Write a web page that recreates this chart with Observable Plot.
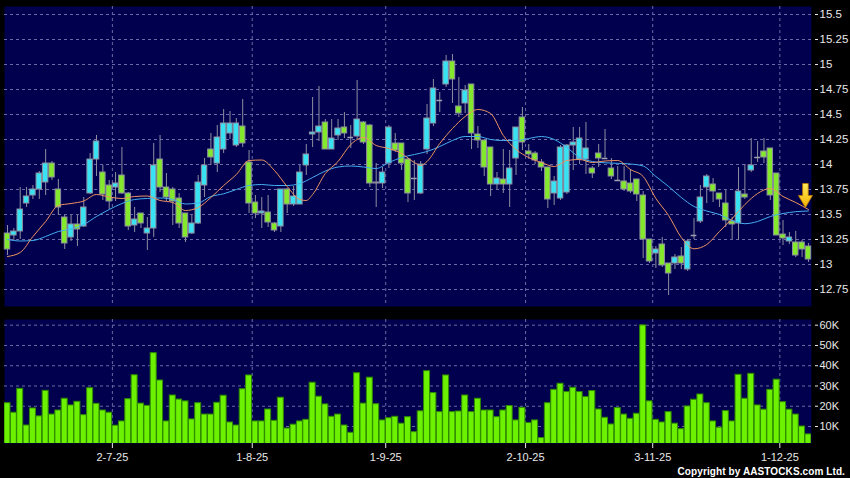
<!DOCTYPE html>
<html><head><meta charset="utf-8">
<script src="https://cdn.jsdelivr.net/npm/d3@7"></script>
<script src="https://cdn.jsdelivr.net/npm/@observablehq/plot@0.6"></script>
<style>
html,body{margin:0;padding:0;background:#000;}
#wrap{position:relative;width:850px;height:478px;background:#000;overflow:hidden;font-family:"Liberation Sans",Arial,sans-serif;}
#price,#vol{position:absolute;left:0;}
#price{top:0;} #vol{top:312px;}
#copy{position:absolute;right:5px;top:466px;color:#fff;font-size:10px;font-weight:bold;line-height:11px;white-space:nowrap;letter-spacing:0.1px;}
</style></head><body>
<div id="wrap"><div id="price"></div><div id="vol"></div><div id="copy">Copyright by AASTOCKS.com Ltd.</div></div>
<script>
// ---- data (one entry per trading day) ----
const opens = [13.31,13.29,13.33,13.61,13.69,13.75,13.82,14.01,13.75,13.47,
13.27,13.40,13.38,13.71,14.05,13.92,13.79,13.77,13.89,13.71,
13.39,13.51,13.31,13.36,14.05,13.77,13.75,13.66,13.51,13.31,
13.41,13.79,14.15,14.01,14.15,14.31,14.19,14.38,14.02,13.62,
13.51,13.52,13.41,13.38,13.75,13.60,13.60,13.99,14.30,14.32,
14.42,14.15,14.29,14.37,14.27,14.28,14.42,14.39,13.82,13.81,
14.01,14.21,14.21,14.05,13.86,13.71,14.15,14.41,14.64,14.80,
15.03,14.58,14.61,14.80,14.30,14.24,14.17,13.80,13.85,13.80,
14.06,14.47,14.13,14.11,14.02,13.97,13.71,13.66,13.72,14.19,
14.05,14.05,13.96,14.11,14.06,13.96,13.84,13.83,13.81,13.85,
13.69,13.25,13.11,13.20,13.01,13.01,13.08,12.95,13.29,13.43,
13.77,13.80,13.71,13.61,13.43,13.41,13.70,13.94,14.07,14.13,
14.16,13.91,13.30,13.23,13.22,13.22,13.18];
const highs = [13.39,13.36,13.77,13.77,13.79,13.93,14.15,14.03,13.85,13.49,
13.49,13.49,13.67,14.11,14.29,13.99,13.84,13.92,14.17,13.72,
13.57,13.51,13.47,14.21,14.29,13.91,13.77,13.71,13.51,13.49,
13.89,14.06,14.31,14.39,14.55,14.53,14.46,14.65,14.14,13.69,
13.67,13.69,13.42,13.75,13.76,13.78,13.99,14.20,14.67,14.78,
14.45,14.45,14.45,14.52,14.39,14.84,14.43,14.40,14.01,13.97,
14.39,14.31,14.21,14.06,14.04,14.03,14.60,14.85,14.72,15.09,
15.10,14.87,14.79,14.80,14.38,14.24,14.17,13.92,14.15,14.14,
14.37,14.57,14.20,14.13,14.05,13.97,13.88,14.19,14.20,14.37,
14.37,14.42,13.98,14.20,14.35,14.06,13.98,13.98,13.95,13.85,
13.73,13.25,13.18,13.27,13.01,13.10,13.17,13.25,13.46,13.79,
13.90,13.86,13.71,13.74,13.47,13.97,14.00,14.26,14.23,14.26,
14.16,13.91,13.44,13.32,13.33,13.24,13.21];
const lows = [13.09,13.24,13.25,13.57,13.65,13.65,13.69,13.84,13.49,13.15,
13.23,13.18,13.37,13.70,13.88,13.64,13.55,13.63,13.70,13.34,
13.32,13.36,13.14,13.27,13.72,13.63,13.39,13.36,13.22,13.30,
13.40,13.67,13.99,13.92,14.11,14.25,14.17,14.17,13.51,13.46,
13.36,13.37,13.32,13.32,13.51,13.58,13.60,13.89,14.17,14.23,
14.15,14.15,14.24,14.26,14.16,14.25,14.20,13.77,13.57,13.76,
13.96,14.12,13.94,13.62,13.64,13.70,14.10,14.38,14.52,14.77,
14.61,14.47,14.51,14.15,14.16,13.88,13.68,13.75,13.71,13.57,
13.89,14.14,14.05,14.00,13.93,13.56,13.59,13.64,13.70,13.94,
14.00,13.90,13.86,13.97,14.05,13.85,13.83,13.73,13.71,13.63,
13.06,13.01,12.96,12.97,12.69,12.95,12.95,12.93,13.25,13.41,
13.61,13.62,13.57,13.37,13.25,13.24,13.65,13.92,14.02,14.01,
13.64,13.29,13.19,13.20,13.07,13.07,13.02];
const closes = [13.15,13.33,13.55,13.68,13.75,13.91,14.01,13.87,13.57,13.21,
13.40,13.35,13.57,14.05,14.23,13.70,13.63,13.81,13.71,13.38,
13.45,13.41,13.36,13.99,13.77,13.67,13.63,13.41,13.27,13.41,
13.82,13.99,14.07,14.27,14.41,14.41,14.41,14.21,13.61,13.51,
13.53,13.42,13.34,13.75,13.60,13.68,13.92,14.10,14.32,14.38,
14.15,14.26,14.36,14.31,14.27,14.45,14.22,13.81,13.81,13.92,
14.37,14.14,14.01,13.71,13.86,14.00,14.46,14.76,14.64,15.03,
14.85,14.51,14.74,14.31,14.24,13.97,13.80,13.86,13.80,13.96,
14.37,14.22,14.10,14.04,13.97,13.65,13.83,14.17,14.19,14.22,
14.26,14.16,13.91,14.06,14.06,13.88,13.84,13.75,13.73,13.70,
13.25,13.03,13.15,12.99,12.91,13.07,13.01,13.23,13.29,13.67,
13.88,13.73,13.65,13.44,13.40,13.73,13.67,13.99,14.07,14.07,
13.69,13.29,13.26,13.27,13.09,13.15,13.05];
// volume in thousands of shares
const volumesK = [21.5,16.8,28.6,10.5,18.9,15.0,27.6,15.9,17.9,23.7,
20.4,22.2,15.6,28.9,21.2,17.9,16.8,10.4,12.5,23.5,
35.3,21.3,20.2,46.2,32.7,12.5,25.3,23.3,22.4,13.5,
21.5,15.9,15.9,21.7,25.2,12.0,10.5,28.4,35.2,12.5,
12.5,18.4,12.8,24.2,9.0,10.9,12.5,13.3,31.6,24.7,
20.9,14.8,15.9,10.5,6.9,36.3,21.3,34.1,21.0,13.0,
14.1,14.8,11.4,14.6,7.2,17.5,37.3,26.5,17.1,35.2,
17.1,17.4,25.3,17.1,23.7,17.9,17.9,14.6,17.9,20.1,
13.0,19.2,11.7,13.0,4.3,21.5,28.1,31.1,27.0,29.1,
27.0,24.5,27.5,18.4,14.3,11.0,19.1,15.9,13.8,16.3,
59.9,22.4,13.3,12.0,17.1,11.4,8.7,19.9,23.2,25.8,
21.5,12.5,9.4,17.6,12.5,35.5,23.7,36.0,20.4,18.3,
28.1,33.1,22.0,18.3,15.9,10.0,6.1];
// moving averages (bar index -> price)
const maShortIdx = [0,2,4,6,8,10,12,14,16,18,20,22,24,26,28,30,32,34,36,38,40,42,44,46,47,48,50,52,54,56,58,60,62,64,65,66,68,70,72,74,76,78,80,82,84,86,88,90,92,94,96,98,100,102,104,106,108,110,112,114,116,118,120,122,124,126];
const maShortVal = [13.08,13.12,13.28,13.43,13.59,13.61,13.635,13.70,13.675,13.66,13.68,13.685,13.64,13.62,13.54,13.57,13.67,13.79,13.90,14.04,14.045,13.94,13.78,13.65,13.64,13.70,13.91,14.03,14.20,14.27,14.19,14.16,14.11,14.02,13.99,14.03,14.21,14.36,14.48,14.55,14.51,14.29,14.15,14.07,14.02,13.98,14.04,14.05,14.02,14.035,14.04,13.95,13.88,13.66,13.49,13.27,13.157,13.20,13.33,13.46,13.60,13.71,13.76,13.68,13.62,13.55];
const maLongIdx = [0,2,4,6,8,10,12,14,16,18,20,22,24,26,28,30,32,34,36,38,40,42,44,46,48,50,52,54,56,58,60,62,64,66,68,70,72,74,76,78,80,82,84,86,88,90,92,94,96,98,100,102,104,106,108,110,112,114,116,118,120,122,124,126];
const maLongVal = [13.25,13.235,13.24,13.28,13.33,13.355,13.40,13.48,13.55,13.61,13.65,13.66,13.665,13.65,13.605,13.615,13.68,13.707,13.75,13.79,13.80,13.79,13.79,13.81,13.87,13.935,13.975,13.985,13.975,13.96,14.02,14.07,14.10,14.13,14.18,14.24,14.28,14.28,14.25,14.24,14.24,14.26,14.28,14.25,14.17,14.07,14.03,14.017,14.012,14.005,13.985,13.88,13.78,13.67,13.58,13.535,13.50,13.44,13.408,13.43,13.48,13.51,13.528,13.535];
// date ticks: first trading day of each month (bar index) and labels
const dateTickIndex = [17,39,60,82,102,122];
const dateTickLabels = ["2-7-25","1-8-25","1-9-25","2-10-25","3-11-25","1-12-25"];
const priceTicks = [12.75,13,13.25,13.5,13.75,14,14.25,14.5,14.75,15,15.25,15.5];
const volumeTicksK = [10,20,30,40,50,60];
const arrowIndex = 126, arrowPrice = 13.69;

// ---- build ----
const bars = opens.map((o,i)=>({i, o, h: highs[i], l: lows[i], c: closes[i], v: volumesK[i]}));
const bodies = bars.filter(d => d.o !== d.c);
const dojis = bars.filter(d => d.o === d.c);
const maShort = maShortIdx.map((i,k)=>({i, v: maShortVal[k]}));
const maLong = maLongIdx.map((i,k)=>({i, v: maLongVal[k]}));
const gridPos = dateTickIndex.map(d => d - 0.5);
const labelOf = new Map(gridPos.map((p,k)=>[p, dateTickLabels[k]]));

const UP = "#38e2f2", DOWN = "#84e82c", EDGE = "#8e8ea0", GRID = "#6a6aa6", PANEL = "#00004e", TXT = "#e8e8e8";
const xDomain = [-0.472, 126.48];

const downArrow = { draw(ctx) {
  ctx.moveTo(-2.8,-12); ctx.lineTo(2.8,-12); ctx.lineTo(2.8,0); ctx.lineTo(7,0);
  ctx.lineTo(0,12); ctx.lineTo(-7,0); ctx.lineTo(-2.8,0); ctx.closePath();
}};
const gradDefs = () => {
  const defs = d3.create("svg:defs");
  const g = defs.append("linearGradient").attr("id","arrowGrad").attr("x1",0).attr("y1",0).attr("x2",0).attr("y2",1);
  g.append("stop").attr("offset","0%").attr("stop-color","#ffec5a");
  g.append("stop").attr("offset","100%").attr("stop-color","#f5b000");
  return defs.node();
};

const price = Plot.plot({
  width: 850, height: 312, marginLeft: 4, marginRight: 39, marginTop: 6, marginBottom: 6,
  style: {background: "transparent", color: TXT, fontFamily: "Liberation Sans, Arial, sans-serif", fontSize: "11.5px"},
  x: {domain: xDomain, axis: null},
  y: {domain: [12.58, 15.58], axis: null},
  marks: [
    gradDefs,
    Plot.frame({fill: PANEL, stroke: "none"}),
    Plot.gridY(priceTicks, {stroke: GRID, strokeOpacity: 1, strokeDasharray: "3,3"}),
    Plot.gridX(gridPos, {stroke: GRID, strokeOpacity: 1, strokeDasharray: "3,3"}),
    Plot.axisY(priceTicks, {anchor: "right", label: null, tickSize: 3, tickPadding: 2, dx: 3, tickFormat: d => String(d)}),
    Plot.ruleX(bars, {x: "i", y1: "l", y2: "h", stroke: EDGE, strokeWidth: 1}),
    Plot.rect(bodies, {x1: d => d.i - 0.43, x2: d => d.i + 0.43, y1: d => Math.min(d.o, d.c), y2: d => Math.max(d.o, d.c),
      fill: d => d.c > d.o ? UP : DOWN, stroke: EDGE, strokeWidth: 1}),
    Plot.ruleY(dojis, {y: "o", x1: d => d.i - 0.45, x2: d => d.i + 0.45, stroke: "#a0a0b0", strokeWidth: 1.5}),
    Plot.line(maLong, {x: "i", y: "v", stroke: "#45aef0", strokeWidth: 1, curve: "monotone-x"}),
    Plot.line(maShort, {x: "i", y: "v", stroke: "#ee9560", strokeWidth: 1, curve: "monotone-x"}),
    Plot.dot([{i: arrowIndex, v: arrowPrice}], {x: "i", y: "v", symbol: downArrow, r: 10, dx: -3,
      fill: "url(#arrowGrad)", stroke: "#c07a00", strokeWidth: 0.8})
  ]
});
document.getElementById("price").append(price);

const vol = Plot.plot({
  width: 850, height: 166, marginLeft: 4, marginRight: 39, marginTop: 7, marginBottom: 35,
  style: {background: "transparent", color: TXT, fontFamily: "Liberation Sans, Arial, sans-serif", fontSize: "11px"},
  x: {domain: xDomain, axis: null},
  y: {domain: [1.61, 62.81], axis: null},
  marks: [
    Plot.frame({fill: PANEL, stroke: "none"}),
    Plot.gridY(volumeTicksK, {stroke: GRID, strokeOpacity: 1, strokeDasharray: "3,3"}),
    Plot.gridX(gridPos, {stroke: GRID, strokeOpacity: 1, strokeDasharray: "3,3"}),
    Plot.rect(bars, {x1: d => d.i - 0.47, x2: d => d.i + 0.47, y1: () => 0, y2: "v",
      fill: "#6cf200", stroke: "#2f8a00", strokeWidth: 1, clip: true}),
    Plot.axisY(volumeTicksK, {anchor: "right", label: null, tickSize: 3, tickPadding: 2, dx: 3, tickFormat: d => d + "K"}),
    Plot.axisX(gridPos, {anchor: "bottom", label: null, tickSize: 5, tickPadding: 5, tickFormat: d => labelOf.get(d)})
  ]
});
document.getElementById("vol").append(vol);
</script>
</body></html>
